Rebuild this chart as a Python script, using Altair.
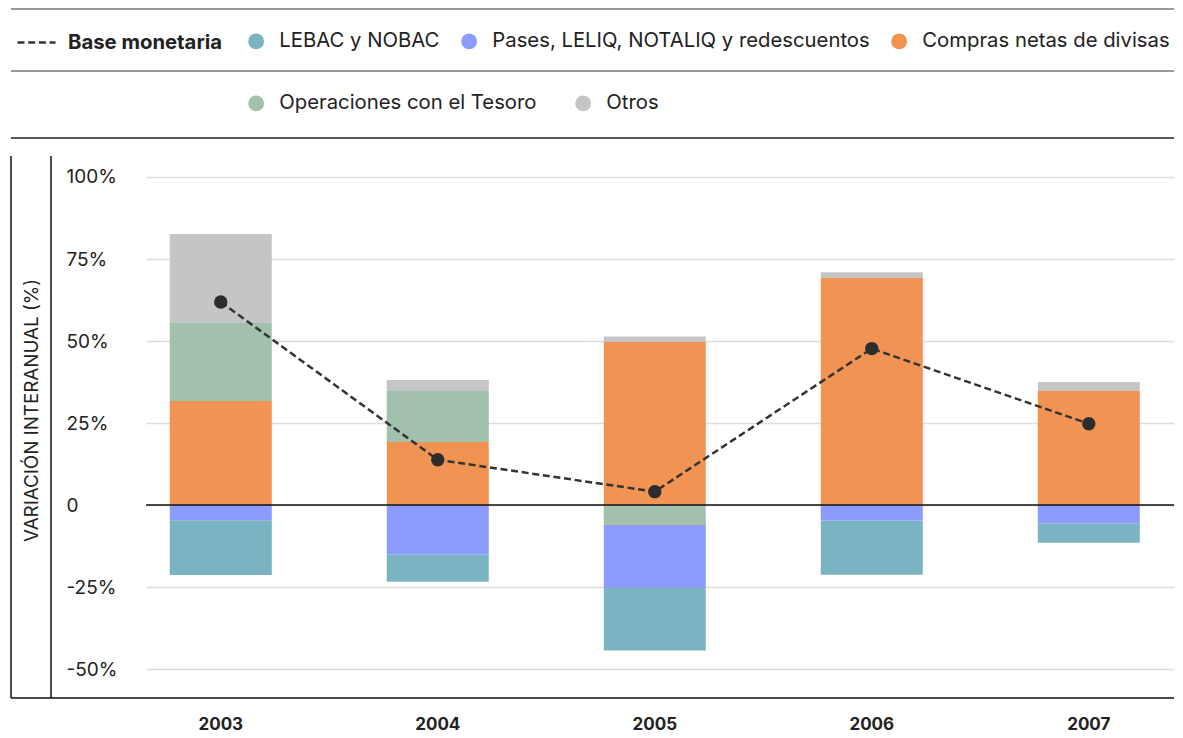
import altair as alt
import pandas as pd

# ---- data ----
years = ["2003", "2004", "2005", "2006", "2007"]
lebac = [-16.7, -8.4, -19.0, -16.5, -6.0]
pases = [-4.6, -15.0, -19.2, -4.7, -5.5]
compras = [31.7, 19.2, 49.7, 69.2, 34.8]
tesoro = [23.8, 15.6, -6.1, 0.0, 0.0]
otros = [27.1, 3.3, 1.7, 1.8, 2.7]
base_monetaria = [61.9, 13.8, 4.1, 47.7, 24.8]

categories = [
    "LEBAC y NOBAC",
    "Pases, LELIQ, NOTALIQ y redescuentos",
    "Compras netas de divisas",
    "Operaciones con el Tesoro",
    "Otros",
]
colors = ["#7ab4c2", "#8d9bfc", "#f19353", "#a1c1ac", "#c5c5c5"]
stack_order = [3, 2, 0, 1, 4]
series = [lebac, pases, compras, tesoro, otros]
y_ticks = [-50, -25, 0, 25, 50, 75, 100]

rows = []
for ci, cat in enumerate(categories):
    for yi, yr in enumerate(years):
        rows.append({"anio": yr, "componente": cat, "valor": series[ci][yi], "orden": stack_order[ci]})
df = pd.DataFrame(rows)
line_df = pd.DataFrame({"anio": years, "valor": base_monetaria, "serie": ["Base monetaria"] * len(years)})

W, H = 1028, 542
FONT = "Inter"
TXT = "#222222"
LEG_FS = 20.3

xscale = alt.Scale(domain=years, paddingInner=0.53, paddingOuter=0.1336, align=0.41)
yscale = alt.Scale(domain=[-58.8, 106.4], nice=False, zero=False)

xaxis = alt.Axis(title=None, labelFont=FONT, labelFontSize=17, labelFontWeight="bold",
                 labelColor=TXT, ticks=False, domain=False, labelPadding=18, labelAngle=0, grid=False)
yaxis = alt.Axis(title="VARIACIÓN INTERANUAL (%)", values=y_ticks,
                 labelExpr="datum.value == 0 ? '0' : datum.value + '%'",
                 labelAlign="left", labelPadding=80, tickSize=0, ticks=False, domain=False,
                 grid=True, gridColor="#dddddd", gridWidth=1.5,
                 labelFont=FONT, labelFontSize=19, labelColor=TXT,
                 titleFont=FONT, titleFontSize=18.8, titleFontWeight="normal", titleColor=TXT,
                 titleX=-115, titleY=254, titleAngle=-90, titleBaseline="middle", titleAlign="center")

X = alt.X("anio:N", scale=xscale, axis=xaxis)

stacked = alt.Chart(df).transform_stack(
    stack="valor", groupby=["anio"], as_=["y0", "y1"],
    sort=[alt.SortField("orden", order="ascending")], offset="zero")


def legend(x, y, pad):
    return alt.Legend(title=None, orient="none", legendX=x, legendY=y, direction="horizontal",
                      symbolType="circle", symbolSize=250, symbolStrokeWidth=0,
                      labelFont=FONT, labelFontSize=LEG_FS, labelColor=TXT, labelOffset=13,
                      columnPadding=pad, padding=0, labelLimit=600)


bars_a = stacked.transform_filter(
    alt.FieldOneOfPredicate(field="componente", oneOf=categories[:3])
).mark_bar().encode(
    x=X,
    y=alt.Y("y0:Q", scale=yscale, axis=yaxis),
    y2="y1:Q",
    color=alt.Color("componente:N", scale=alt.Scale(domain=categories[:3], range=colors[:3]),
                    legend=legend(100, -125, 19)),
)
bars_b = stacked.transform_filter(
    alt.FieldOneOfPredicate(field="componente", oneOf=categories[3:])
).mark_bar().encode(
    x=X,
    y=alt.Y("y0:Q", scale=yscale, axis=yaxis),
    y2="y1:Q",
    color=alt.Color("componente:N", scale=alt.Scale(domain=categories[3:], range=colors[3:]),
                    legend=legend(100, -63, 36)),
)

zero = alt.Chart(pd.DataFrame({"v": [0]})).mark_rule(color="#111111", strokeWidth=1.5).encode(
    y=alt.Y("v:Q", scale=yscale, axis=yaxis))

line = alt.Chart(line_df).mark_line(color="#333333", strokeWidth=2.5).encode(
    x=X,
    y=alt.Y("valor:Q", scale=yscale, axis=yaxis),
    strokeDash=alt.StrokeDash("serie:N", scale=alt.Scale(domain=["Base monetaria"], range=[[7, 3.7]]),
                              legend=alt.Legend(title=None, orient="none", legendX=-130, legendY=-134,
                                                direction="horizontal", symbolType="stroke",
                                                symbolSize=1444, symbolStrokeWidth=2.5,
                                                symbolStrokeColor="#333333",
                                                labelFont=FONT, labelFontSize=LEG_FS, labelFontWeight="bold",
                                                labelColor=TXT, labelOffset=11, padding=0, labelLimit=400)),
)
points = alt.Chart(line_df).mark_circle(size=180, color="#2d2d2d", opacity=1).encode(
    x=X, y=alt.Y("valor:Q", scale=yscale, axis=yaxis))

one = pd.DataFrame({"k": [0]})


def hline(y, color):
    return alt.Chart(one).mark_rule(color=color, strokeWidth=1.5).encode(
        x=alt.value(-135), x2=alt.value(W), y=alt.value(y))


def vline(x):
    return alt.Chart(one).mark_rule(color="#111111", strokeWidth=1.5).encode(
        x=alt.value(x), y=alt.value(0), y2=alt.value(H))


decor = [hline(-147, "#777777"), hline(-85, "#777777"), hline(-18, "#222222"),
         hline(H, "#111111"), vline(-135), vline(-95)]

chart = alt.layer(bars_a, bars_b, zero, line, points, *decor).resolve_scale(
    color="independent"
).properties(
    width=W, height=H,
    padding={"left": 2, "top": 0, "right": 0, "bottom": 2},
).configure_view(stroke=None)

chart.save("out.html", embed_options={"renderer": "svg", "actions": False})
